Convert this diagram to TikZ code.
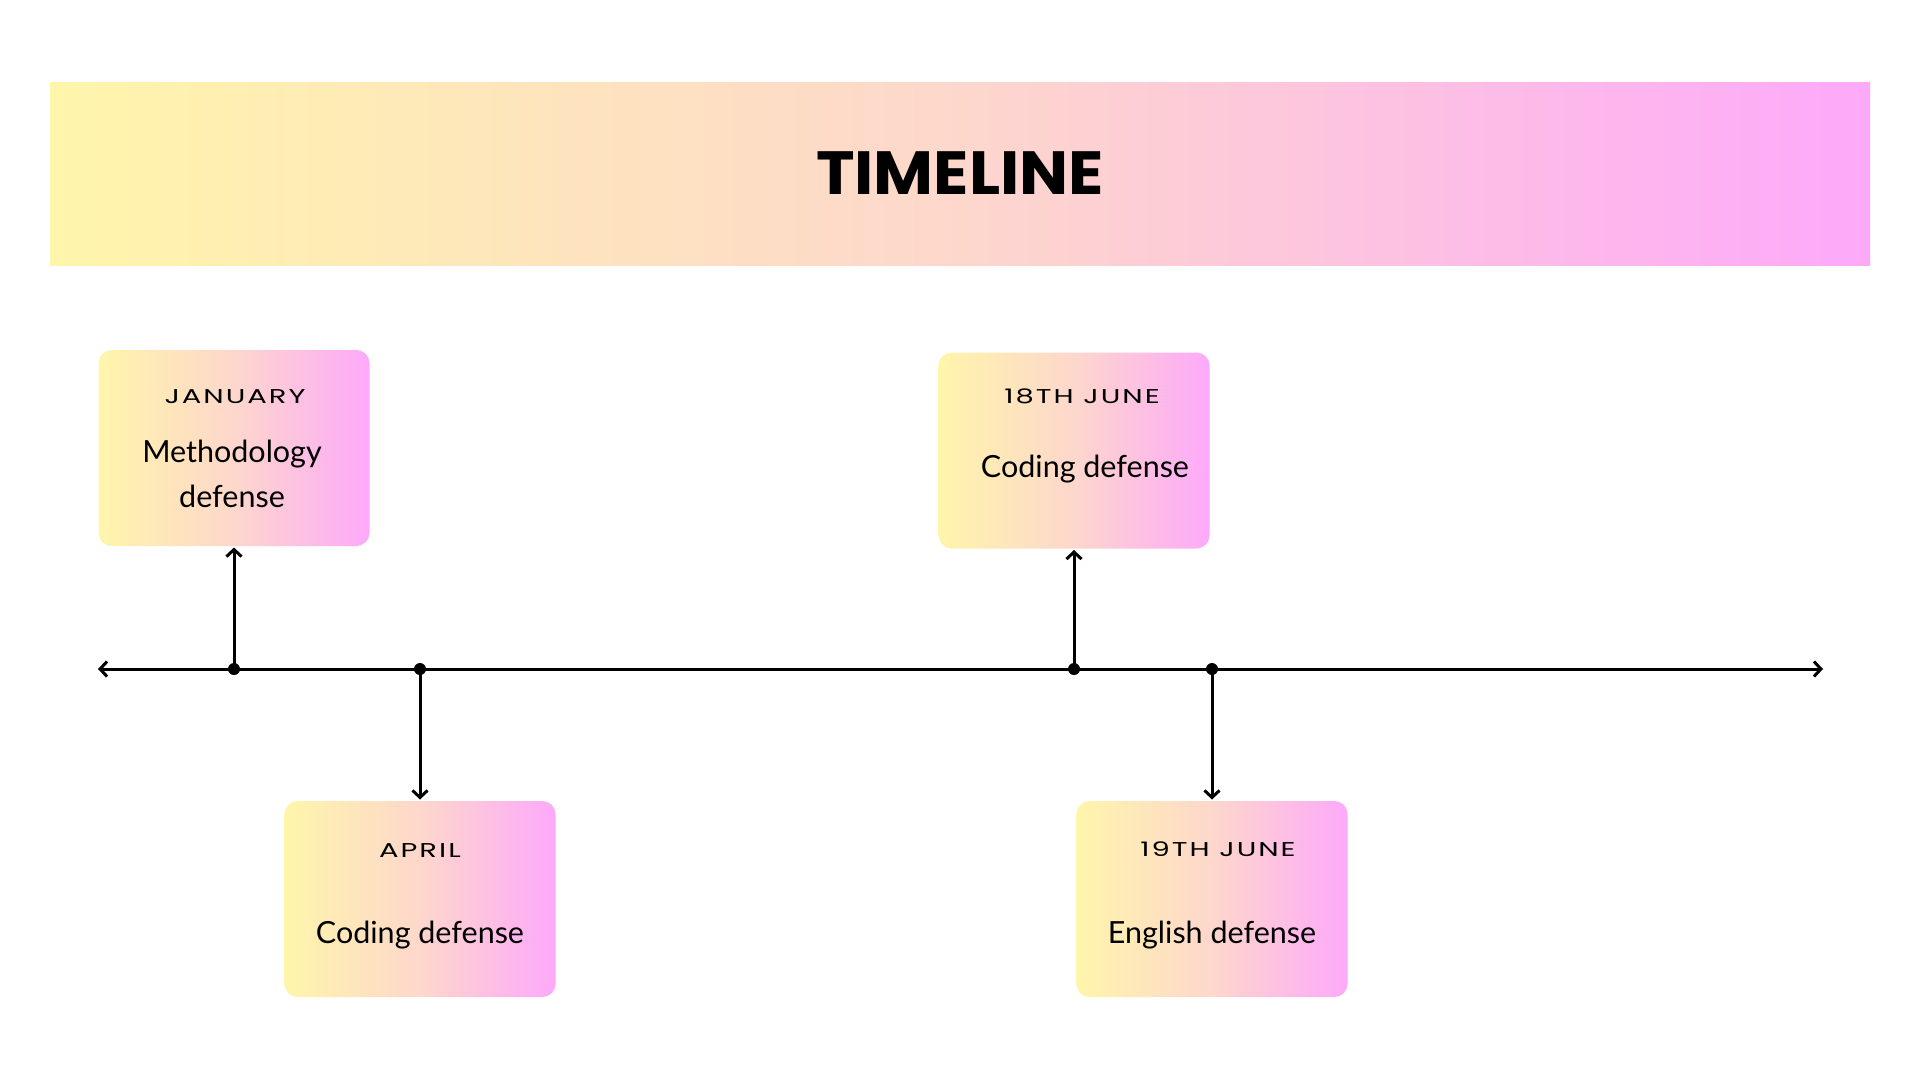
\documentclass[tikz,border=0pt]{standalone}
\usepackage{fontspec}
\setmainfont{Lato}
\newfontfamily\titlefont[FakeStretch=1.07]{Poppins}
\newfontfamily\datefont[LetterSpace=10,FakeStretch=1.45]{Poppins}
\usepackage{tikz}
\usetikzlibrary{arrows.meta,positioning,calc}
\definecolor{tlyellow}{HTML}{FFF5AB}
\definecolor{tlpeach}{HTML}{FDD7CC}
\definecolor{tlpink}{HTML}{FDA9FA}
\tikzset{
  fade/.style={left color=tlyellow,right color=tlpink,middle color=tlpeach},
  eventbox/.style={fade,rounded corners=13pt,minimum width=271pt,minimum height=196pt,inner sep=0pt},
  datetxt/.style={anchor=base,font=\datefont\fontsize{20}{24}\selectfont},
  bodytxt/.style={anchor=base,font=\fontsize{30.5}{36}\selectfont},
  dot/.style={circle,fill=black,inner sep=0pt,minimum size=12pt},
}

\begin{document}
\begin{tikzpicture}[x=1pt,y=-1pt,>={Straight Barb[length=7pt,width=15pt]},line width=3pt]
  \useasboundingbox (0,0) rectangle (1920,1080);

  % banner
  \node[fade,minimum width=1820pt,minimum height=183pt,inner sep=0pt] (banner) at (960,173.5) {};
  \node[font=\titlefont\bfseries\fontsize{61}{70}\selectfont] (title) at (banner.center) {TIMELINE};

  % the axis
  \coordinate (axl) at (98,669);
  \coordinate (axr) at (1823,669);
  \draw[<->] (axl) -- (axr);

  \foreach \n/\x in {d1/234,d2/420,d3/1074,d4/1212}
    \node[dot] (\n) at (\x,669) {};

  % boxes above the axis
  \node[eventbox] (jan) at (234,448) {};
  \node[datetxt] (jandate) at (235,403) {JANUARY};
  \node[bodytxt] (janline1) at (232,462) {Methodology};
  \node[bodytxt] (janline2) at ([yshift=-45pt]janline1.base) {defense};

  \node[eventbox] (junA) at (1074,450.5) {};
  \node[datetxt] (junAdate) at (1082,403) {18TH JUNE};
  \node[bodytxt] (junAtxt) at (1085,477) {Coding defense};

  % boxes below the axis
  \node[eventbox] (apr) at (420,899) {};
  \node[datetxt] (aprdate) at (420,857) {APRIL};
  \node[bodytxt] (aprtxt) at (420,943) {Coding defense};

  \node[eventbox] (junB) at (1212,899) {};
  \node[datetxt] (junBdate) at (1218,856) {19TH JUNE};
  \node[bodytxt] (junBtxt) at (1212,943) {English defense};

  % connectors
  \draw[->] (d1.center) -- (jan.south);
  \draw[->] (d3.center) -- (junA.south);
  \draw[->] (d2.center) -- (apr.north);
  \draw[->] (d4.center) -- (junB.north);
\end{tikzpicture}
\end{document}
